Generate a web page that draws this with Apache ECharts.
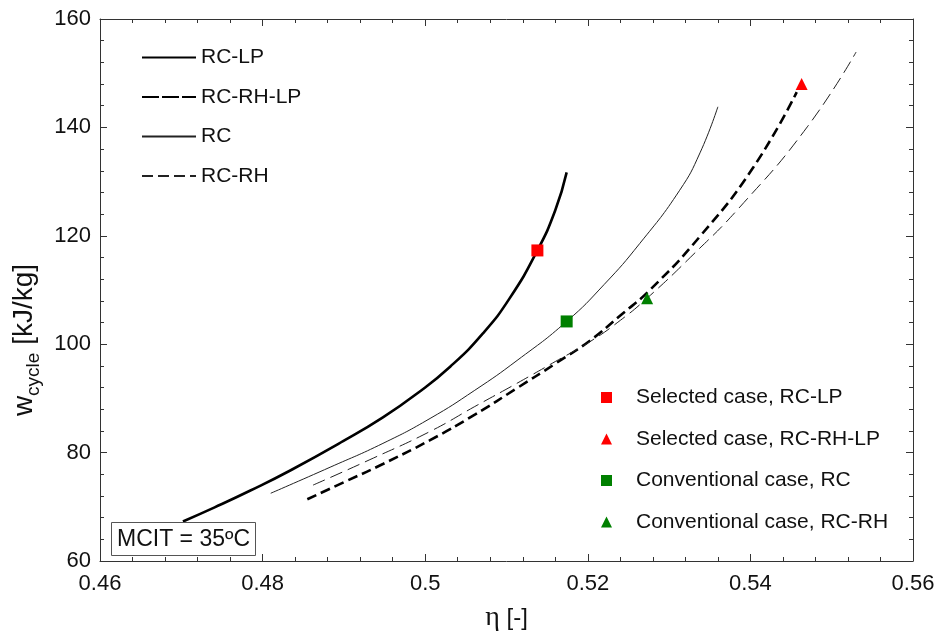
<!DOCTYPE html>
<html>
<head>
<meta charset="utf-8">
<script src="https://cdn.jsdelivr.net/npm/echarts@6/dist/echarts.min.js"></script>
<style>
html,body{margin:0;padding:0;background:#fff;}
#chart{width:937px;height:631px;}
</style>
</head>
<body>
<div id="chart"></div>
<script>
// ---- data ----
const xTicks = [0.46, 0.48, 0.5, 0.52, 0.54, 0.56];
const yTicks = [60, 80, 100, 120, 140, 160];

const rcLP_eta = [0.4702, 0.4741, 0.4785, 0.4834, 0.4899, 0.4948, 0.4990, 0.5031, 0.5071, 0.5104, 0.5138, 0.5160, 0.5174];
const rcLP_w   = [67.3,   69.9,   73.0,   76.7,   82.1,   86.5,   90.9,   95.9,   102.0,  108.5,  117.3,  124.7,  131.7];

const rcRhLP_eta = [0.4855, 0.4901, 0.4948, 0.5006, 0.5061, 0.5113, 0.5160, 0.5203, 0.5240, 0.5277, 0.5338, 0.5403, 0.5457];
const rcRhLP_w   = [71.4,   74.6,   77.9,   82.3,   87.0,   91.9,   96.4,   100.7,  105.3,  110.1,  119.9,  132.5,  146.5];

const rc_eta = [0.4810, 0.4883, 0.4948, 0.5006, 0.5061, 0.5113, 0.5174, 0.5220, 0.5264, 0.5313, 0.5338, 0.5360];
const rc_w   = [72.5,   77.3,   81.7,   86.3,   91.5,   97.0,   104.2,  111.0,  118.6,  128.4,  135.3,  143.8];

const rcRh_eta = [0.4862, 0.4932, 0.5006, 0.5061, 0.5113, 0.5160, 0.5203, 0.5240, 0.5273, 0.5326, 0.5387, 0.5470, 0.5530];
const rcRh_w   = [74.0,   78.7,   83.9,   88.5,   92.8,   96.8,   100.5,  104.4,  108.5,  116.0,  125.3,  140.1,  153.9];

const lineNames = ['RC-LP', 'RC-RH-LP', 'RC', 'RC-RH'];
const pointNames = ['Selected case, RC-LP', 'Selected case, RC-RH-LP', 'Conventional case, RC', 'Conventional case, RC-RH'];
const pointEta = [0.5138, 0.5463, 0.5174, 0.5273];
const pointW   = [117.3,  148.0,  104.2,  108.5];

const boxLabel = 'MCIT = 35ºC';

// ---- chart ----
const pairs = (xs, ys) => xs.map((x, i) => [x, ys[i]]);
const FONT = 'Liberation Sans, Arial, sans-serif';
const SERIF = 'Liberation Serif, Times New Roman, serif';

const chart = echarts.init(document.getElementById('chart'), null, {renderer: 'canvas'});

const lineStyles = [
  {color: '#000', width: 2.6, type: 'solid'},
  {color: '#000', width: 2.6, type: [10, 5]},
  {color: '#222', width: 1, type: 'solid'},
  {color: '#222', width: 1, type: [13, 6]}
];
const legendLineTypes = ['solid', [17, 3], 'solid', [11, 5]];
const lineData = [pairs(rcLP_eta, rcLP_w), pairs(rcRhLP_eta, rcRhLP_w), pairs(rc_eta, rc_w), pairs(rcRh_eta, rcRh_w)];

const pointSymbols = ['rect', 'triangle', 'rect', 'triangle'];
const pointColors = ['#ff0000', '#ff0000', '#008000', '#008000'];

const series = [];
lineNames.forEach((n, i) => {
  series.push({
    name: n, type: 'line', data: lineData[i], smooth: 0.5,
    symbol: 'none', showSymbol: false, lineStyle: lineStyles[i], itemStyle: {color: lineStyles[i].color},
    silent: true, animation: false, z: 2
  });
});
pointNames.forEach((n, i) => {
  series.push({
    name: n, type: 'scatter', data: [[pointEta[i], pointW[i]]],
    symbol: pointSymbols[i], symbolSize: 12, itemStyle: {color: pointColors[i], opacity: 1},
    animation: false, z: 5
  });
});

const axisCommon = {
  axisLine: {show: true, onZero: false, lineStyle: {color: '#333', width: 1}},
  axisTick: {show: true, inside: true, length: 7, lineStyle: {color: '#333'}},
  minorTick: {show: true, splitNumber: 5, length: 4, lineStyle: {color: '#333'}},
  splitLine: {show: false}
};

const option = {
  backgroundColor: '#fff',
  animation: false,
  textStyle: {fontFamily: FONT},
  grid: {left: 100, right: 24, top: 19, bottom: 70, containLabel: false, outerBoundsMode: 'none'},
  title: {
    text: boxLabel, left: 111, top: 522,
    borderColor: '#555', borderWidth: 1, padding: [6, 6, 5, 6],
    textStyle: {fontFamily: FONT, fontSize: 23, fontWeight: 'normal', color: '#111'}
  },
  legend: [
    {
      data: lineNames.map((n, i) => ({name: n, lineStyle: {type: legendLineTypes[i]}})),
      orient: 'vertical', left: 141, top: 47, padding: 0,
      itemWidth: 54, itemHeight: 14, itemGap: 18.5,
      itemStyle: {color: 'rgba(0,0,0,0)', borderColor: 'rgba(0,0,0,0)', borderWidth: 0, opacity: 0},
      textStyle: {fontFamily: FONT, fontSize: 21, color: '#111', lineHeight: 20},
      selectedMode: false
    },
    {
      data: pointNames, orient: 'vertical', left: 601, top: 387, padding: 0,
      itemWidth: 11, itemHeight: 11, itemGap: 20.5,
      textStyle: {fontFamily: FONT, fontSize: 21, color: '#111', lineHeight: 20, padding: [0, 0, 0, 19]},
      selectedMode: false
    }
  ],
  xAxis: [
    Object.assign({}, axisCommon, {
      type: 'value', position: 'bottom', min: xTicks[0], max: xTicks[xTicks.length - 1],
      interval: xTicks[1] - xTicks[0],
      axisLabel: {fontFamily: FONT, fontSize: 22, color: '#111', margin: 12,
        formatter: v => { const t = xTicks.find(k => Math.abs(k - v) < 1e-9); return t === undefined ? '' : String(t); }},
      name: '{g|η}  {b|[-]}', nameLocation: 'middle', nameGap: 43,
      nameTextStyle: {
        rich: {
          g: {fontFamily: SERIF, fontSize: 28, color: '#111'},
          b: {fontFamily: FONT, fontSize: 24, color: '#111'}
        }
      }
    }),
    Object.assign({}, axisCommon, {
      type: 'value', position: 'top', min: xTicks[0], max: xTicks[xTicks.length - 1],
      interval: xTicks[1] - xTicks[0], axisLabel: {show: false}
    })
  ],
  yAxis: [
    Object.assign({}, axisCommon, {
      type: 'value', position: 'left', min: yTicks[0], max: yTicks[yTicks.length - 1],
      interval: yTicks[1] - yTicks[0],
      axisLabel: {fontFamily: FONT, fontSize: 22, color: '#111', margin: 9},
      name: '{w|w}{s|cycle}{w| [kJ/kg]}', nameLocation: 'middle', nameGap: 62, nameRotate: 90,
      nameTextStyle: {
        fontFamily: FONT, color: '#111', padding: [0, 100, 0, 0],
        rich: {
          w: {fontFamily: FONT, fontSize: 28, color: '#111', verticalAlign: 'bottom'},
          s: {fontFamily: FONT, fontSize: 19, color: '#111', verticalAlign: 'bottom', padding: [0, 0, -5, 0]}
        }
      }
    }),
    Object.assign({}, axisCommon, {
      type: 'value', position: 'right', min: yTicks[0], max: yTicks[yTicks.length - 1],
      interval: yTicks[1] - yTicks[0], axisLabel: {show: false}
    })
  ],
  series: series
};

chart.setOption(option);
</script>
</body>
</html>
